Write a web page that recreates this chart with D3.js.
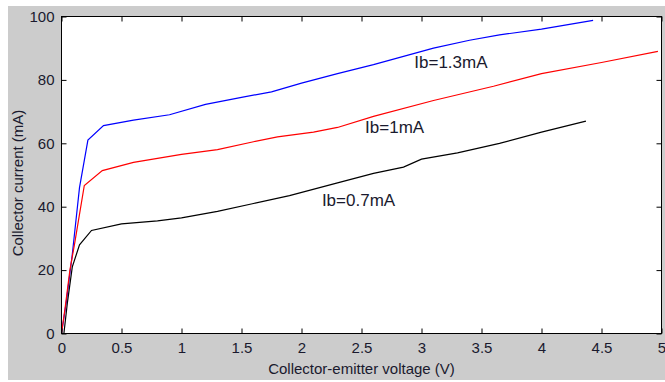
<!DOCTYPE html>
<html>
<head>
<meta charset="utf-8">
<script src="https://cdn.jsdelivr.net/npm/d3@7/dist/d3.min.js"></script>
<style>
  body { margin: 0; background: #fff; }
  text { font-family: Arial, "Liberation Sans", sans-serif; }
</style>
</head>
<body>
<div class="chart"></div>
<script>
var svgWidth = 665;
var svgHeight = 382;

var margin = { top: 16.5, right: 3.5, bottom: 48.5, left: 61.5 };
var width = svgWidth - margin.left - margin.right;
var height = svgHeight - margin.top - margin.bottom;

// Ib = 1.3 mA
var blueV = [0, 0.04, 0.09, 0.15, 0.22, 0.35, 0.6, 0.9, 1.2, 1.5, 1.75, 2, 2.3, 2.6, 3.1, 3.4, 3.65, 4, 4.43];
var blueI = [0, 10, 25, 46, 61, 65.6, 67.3, 69, 72.3, 74.5, 76.2, 79, 82, 84.8, 90, 92.5, 94.2, 96, 98.8];
// Ib = 1 mA
var redV = [0, 0.03, 0.07, 0.11, 0.19, 0.34, 0.6, 1, 1.3, 1.6, 1.8, 2.1, 2.3, 2.6, 3.1, 3.6, 4, 4.5, 4.97];
var redI = [0, 8, 20, 28.5, 46.7, 51.4, 54, 56.5, 58, 60.5, 62, 63.5, 65, 68.5, 73.5, 78, 82, 85.5, 89];
// Ib = 0.7 mA
var blackV = [0.02, 0.05, 0.09, 0.15, 0.25, 0.5, 0.8, 1, 1.3, 1.6, 1.9, 2.3, 2.6, 2.85, 3, 3.3, 3.65, 4, 4.37];
var blackI = [0, 10, 21, 28, 32.5, 34.6, 35.5, 36.5, 38.5, 41, 43.5, 47.5, 50.5, 52.5, 55, 57, 60, 63.5, 67];

var xTicks = [0, 0.5, 1, 1.5, 2, 2.5, 3, 3.5, 4, 4.5, 5];
var yTicks = [0, 20, 40, 60, 80, 100];

var labels = [
  { text: "Ib=1.3mA", v: 2.94, i: 85.5 },
  { text: "Ib=1mA", v: 2.53, i: 65 },
  { text: "Ib=0.7mA", v: 2.17, i: 42 }
];

var svg = d3.select(".chart")
  .append("svg")
  .attr("width", svgWidth)
  .attr("height", svgHeight);

// grey figure background
svg.append("rect")
  .attr("x", 8).attr("y", 6)
  .attr("width", svgWidth - 8).attr("height", svgHeight - 8)
  .attr("fill", "#cccccc");

var chartGroup = svg.append("g")
  .attr("transform", `translate(${margin.left}, ${margin.top})`);

var x = d3.scaleLinear().domain([0, 5]).range([0, width]);
var y = d3.scaleLinear().domain([0, 100]).range([height, 0]);

chartGroup.append("rect")
  .attr("width", width).attr("height", height)
  .attr("fill", "#fff");

// series
var series = [
  { v: blueV, i: blueI, color: "#0000ff" },
  { v: redV, i: redI, color: "#ff0000" },
  { v: blackV, i: blackI, color: "#000000" }
];

var line = d3.line()
  .x(d => x(d[0]))
  .y(d => y(d[1]));

series.forEach(function (s) {
  chartGroup.append("path")
    .datum(d3.zip(s.v, s.i))
    .attr("d", line)
    .attr("fill", "none")
    .attr("stroke", s.color)
    .attr("stroke-width", 1.2);
});

// axes (MATLAB style: ticks inward on all sides)
function styleAxis(g) {
  g.select(".domain").remove();
  g.selectAll("line").attr("stroke", "#000");
  g.selectAll("text").attr("fill", "#1a1a2e").attr("font-size", "15px");
}

chartGroup.append("g")
  .attr("transform", `translate(0, ${height})`)
  .call(d3.axisBottom(x).tickValues(xTicks).tickSize(-5).tickPadding(9).tickFormat(d3.format("")))
  .call(styleAxis);

chartGroup.append("g")
  .call(d3.axisTop(x).tickValues(xTicks).tickSize(-5).tickFormat(""))
  .call(styleAxis);

chartGroup.append("g")
  .call(d3.axisLeft(y).tickValues(yTicks).tickSize(-5).tickPadding(7))
  .call(styleAxis);

chartGroup.append("g")
  .attr("transform", `translate(${width}, 0)`)
  .call(d3.axisRight(y).tickValues(yTicks).tickSize(-5).tickFormat(""))
  .call(styleAxis);

// box
chartGroup.append("rect")
  .attr("width", width).attr("height", height)
  .attr("fill", "none")
  .attr("stroke", "#000")
  .attr("stroke-width", 1);

// curve labels
chartGroup.selectAll(".curve-label")
  .data(labels)
  .enter()
  .append("text")
  .attr("class", "curve-label")
  .attr("x", d => x(d.v))
  .attr("y", d => y(d.i))
  .attr("dy", "0.35em")
  .attr("font-size", "17px")
  .attr("fill", "#1a1a2e")
  .text(d => d.text);

// axis titles
chartGroup.append("text")
  .attr("x", width / 2)
  .attr("y", height + 40)
  .attr("text-anchor", "middle")
  .attr("font-size", "15px")
  .attr("fill", "#1a1a2e")
  .text("Collector-emitter voltage (V)");

chartGroup.append("text")
  .attr("transform", "rotate(-90)")
  .attr("x", -height / 2 - 8)
  .attr("y", -39)
  .attr("text-anchor", "middle")
  .attr("font-size", "15px")
  .attr("fill", "#1a1a2e")
  .text("Collector current (mA)");
</script>
</body>
</html>
